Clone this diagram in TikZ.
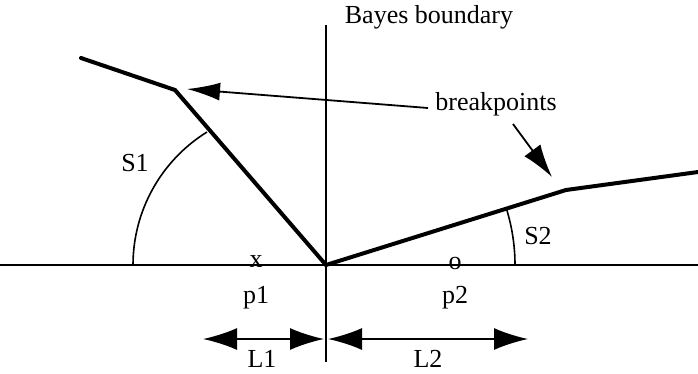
\documentclass[tikz,border=0pt]{standalone}
\usepackage{fontspec}
\setmainfont{Liberation Serif}
\usetikzlibrary{arrows.meta}
\begin{document}
\begin{tikzpicture}[x=1pt,y=-1pt,
  thin line/.style={line width=1.8pt},
  thick line/.style={line width=4pt,line join=miter,line cap=round},
  lbl/.style={font=\fontsize{26}{30}\selectfont,inner sep=0pt},
  dimtips/.style={{Latex[length=34pt,width=22pt]}-{Latex[length=34pt,width=22pt]}}]
\useasboundingbox (0,0) rectangle (698,373);
% points
\coordinate (O) at (326,265);
\coordinate (vtop) at (326,25);
\coordinate (vbot) at (326,362);
\coordinate (hl) at (0,265);
\coordinate (hr) at (698,265);
\coordinate (a0) at (81,58);
\coordinate (bp1) at (175,90);
\coordinate (bp2) at (566,190);
\coordinate (b3) at (698,172);
% axes
\draw[thin line] (vtop) -- (vbot);
\draw[thin line] (hl) -- (hr);
% boundary polylines
\draw[thick line] (a0) -- (bp1) -- (O) -- (bp2) -- (b3);
% angle arcs
\draw[line width=1.6pt] (133,265) arc[start angle=180,end angle=238.2,radius=156.5];
\draw[line width=1.6pt] (515,265) arc[start angle=0,end angle=-17.4,radius=189];
% labels
\node[lbl] (bayes) at (429,17) {Bayes boundary};
\node[lbl] (brk) at (496,104) {breakpoints};
\node[lbl] (s1) at (135,163) {S1};
\node[lbl] (s2) at (538,236) {S2};
\node[lbl] (x) at (256,262) {x};
\node[lbl] (o) at (455,263) {o};
\node[lbl] (p1) at (256,298) {p1};
\node[lbl] (p2) at (455,298) {p2};
\node[lbl] (l1) at (262,359) {L1};
\node[lbl] (l2) at (428,359) {L2};
% breakpoint arrows
\coordinate (t1) at (428,108);
\coordinate (t2) at (513,124);
\coordinate (h1) at (187,89);
\coordinate (h2) at (552,177);
\draw[line width=1.8pt,-{Latex[length=33pt,width=18pt]}] (t1) -- (h1);
\draw[line width=1.8pt,-{Latex[length=33pt,width=20pt]}] (t2) -- (h2);
% dimension arrows
\coordinate (d1a) at (203,339);
\coordinate (d1b) at (324,339);
\coordinate (d2a) at (328,339);
\coordinate (d2b) at (528,339);
\draw[line width=1.8pt,dimtips] (d1a) -- (d1b);
\draw[line width=1.8pt,dimtips] (d2a) -- (d2b);
\end{tikzpicture}
\end{document}
